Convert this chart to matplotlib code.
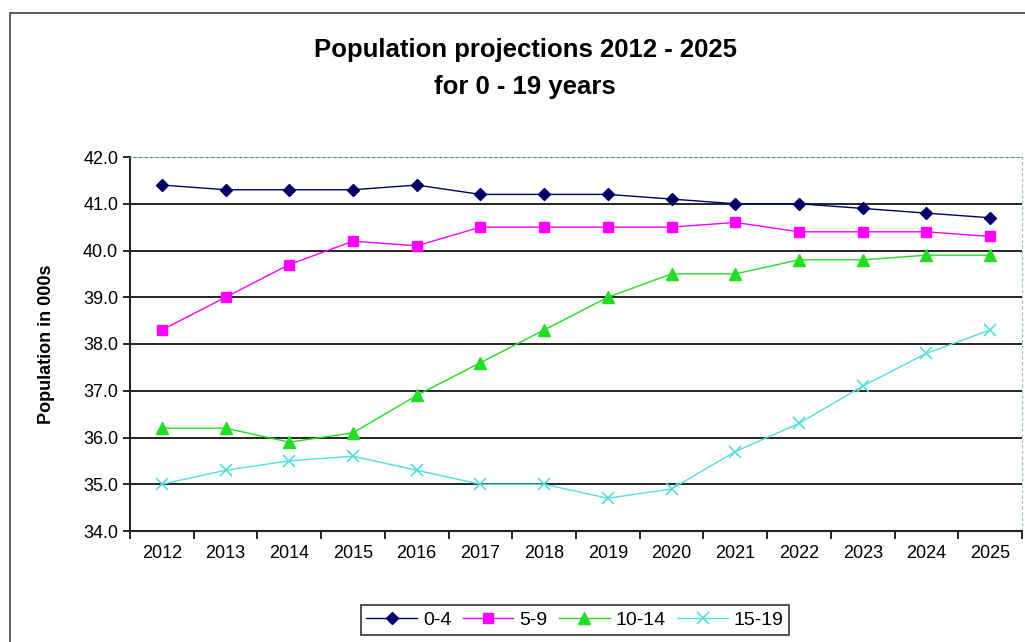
import matplotlib.pyplot as plt
import matplotlib.patches as mpatches
import numpy as np

plt.rcParams['font.family'] = ['Liberation Sans', 'DejaVu Sans']

# --- Données ---
annees = ['2012', '2013', '2014', '2015', '2016', '2017', '2018',
          '2019', '2020', '2021', '2022', '2023', '2024', '2025']
age_0_4 = [41.4, 41.3, 41.3, 41.3, 41.4, 41.2, 41.2, 41.2, 41.1, 41.0, 41.0, 40.9, 40.8, 40.7]
age_5_9 = [38.3, 39.0, 39.7, 40.2, 40.1, 40.5, 40.5, 40.5, 40.5, 40.6, 40.4, 40.4, 40.4, 40.3]
age_10_14 = [36.2, 36.2, 35.9, 36.1, 36.9, 37.6, 38.3, 39.0, 39.5, 39.5, 39.8, 39.8, 39.9, 39.9]
age_15_19 = [35.0, 35.3, 35.5, 35.6, 35.3, 35.0, 35.0, 34.7, 34.9, 35.7, 36.3, 37.1, 37.8, 38.3]

fig = plt.figure(figsize=(10.25, 6.42), dpi=100)
ax = fig.add_axes([130 / 1025, 1 - 531 / 642, (1022 - 130) / 1025, (531 - 157) / 642])

# cadre extérieur du graphique
cadre = mpatches.Rectangle((10 / 1025, -0.1), 1.1, 1 - 13 / 642 + 0.1,
                           transform=fig.transFigure, fill=False,
                           edgecolor='#444444', linewidth=1.2, clip_on=False)
fig.patches.append(cadre)

x = np.arange(len(annees))
ax.plot(x, age_0_4, color='#000066', marker='D', markersize=6, linewidth=1, label='0-4')
ax.plot(x, age_5_9, color='#ff00ff', marker='s', markersize=7, linewidth=1, label='5-9')
ax.plot(x, age_10_14, color='#22dd22', marker='^', markersize=8, linewidth=1, label='10-14')
ax.plot(x, age_15_19, color='#55dddd', marker='x', markersize=8, markeredgewidth=1.2,
        linewidth=1, label='15-19')

ax.set_xlim(-0.5, len(annees) - 0.5)
ax.set_ylim(34, 42)
ax.set_yticks(np.arange(34, 42.1, 1))
ax.set_yticklabels([f"{v:.1f}" for v in np.arange(34, 42.1, 1)], fontsize=13)
ax.set_xticks(x)
ax.set_xticklabels(annees, fontsize=13)
ax.set_xticks(np.arange(-0.5, len(annees), 1), minor=True)
ax.tick_params(axis='x', which='major', length=0, pad=10)
ax.tick_params(axis='x', which='minor', length=6, width=1.2, direction='out')
ax.tick_params(axis='y', length=5, width=1.2, direction='out')

ax.grid(axis='y', color='black', linewidth=1.2)
ax.set_axisbelow(True)

for s in ['left', 'bottom']:
    ax.spines[s].set_linewidth(1.5)
    ax.spines[s].set_color('#222222')
ax.spines['top'].set_linestyle((0, (3, 2)))
ax.spines['top'].set_color('#99bbcc')
ax.spines['right'].set_linestyle((0, (2, 3)))
ax.spines['right'].set_color('#99bbcc')

ax.set_ylabel("Population in 000s", fontsize=13, fontweight='bold', labelpad=20)

fig.text(525 / 1025, 1 - 50 / 642, "Population projections 2012 - 2025",
         ha='center', va='center', fontsize=18.5, fontweight='bold')
fig.text(525 / 1025, 1 - 87 / 642, "for 0 - 19 years",
         ha='center', va='center', fontsize=18.5, fontweight='bold')

leg = fig.legend(loc='center', bbox_to_anchor=(575 / 1025, 1 - 620 / 642), ncol=4,
                 fontsize=14, frameon=True, fancybox=False, handlelength=2.6,
                 columnspacing=0.6, handletextpad=0.3, borderpad=0.3)
leg.get_frame().set_edgecolor('black')
leg.get_frame().set_linewidth(1.2)

plt.savefig("out.png", dpi=100)
